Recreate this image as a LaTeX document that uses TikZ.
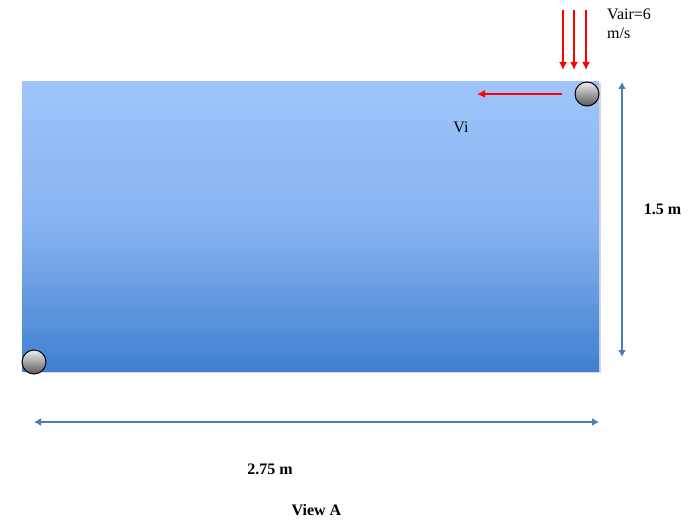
\documentclass[tikz,border=0pt]{standalone}
\usepackage{fontspec}
\setmainfont{Liberation Serif}
\usetikzlibrary{arrows.meta,shadows}
\definecolor{dimblue}{RGB}{74,126,187}
\definecolor{topblue}{RGB}{158,196,250}
\definecolor{midblue}{RGB}{135,178,240}
\definecolor{botblue}{RGB}{64,128,208}
\tikzset{
  dimarrow/.style={draw=dimblue, line width=2pt, {Latex[length=7pt,width=8pt]}-{Latex[length=7pt,width=8pt]}},
  airarrow/.style={draw=red, line width=2.5pt, -{Latex[length=8pt,width=8pt]}},
  ball/.style={circle, draw=black, line width=1pt, minimum size=24pt, inner sep=0pt, top color=gray!15, bottom color=black!65},
  lbl/.style={font=\fontsize{16}{19}\selectfont, inner sep=0pt},
  blbl/.style={font=\fontsize{16}{19}\selectfont\bfseries, inner sep=0pt}
}
\begin{document}
\begin{tikzpicture}[x=1pt,y=-1pt]
\useasboundingbox (0,0) rectangle (698,529);
% tank
\shade[top color=topblue, bottom color=botblue, middle color=midblue, drop shadow={opacity=0.3, shadow xshift=1.5pt, shadow yshift=-1.5pt}] (22,82) rectangle (599,371);
\node[draw=none, minimum width=577pt, minimum height=289pt, inner sep=0pt] (tank) at (310.5,226.5) {};
% balls
\node[ball] (b1) at (587,94) {};
\node[ball] (b2) at (34,362) {};
% air arrows
\coordinate (a1s) at (563,10); \coordinate (a1e) at (563,70);
\coordinate (a2s) at (574,10); \coordinate (a2e) at (574,70);
\coordinate (a3s) at (586,10); \coordinate (a3e) at (586,70);
\draw[airarrow] (a1s) -- (a1e);
\draw[airarrow] (a2s) -- (a2e);
\draw[airarrow] (a3s) -- (a3e);
\node[lbl, anchor=north west, align=left] (vair) at (607,9) {Vair=6\\m/s};
% Vi arrow
\coordinate (vie) at (477,94);
\draw[airarrow] (b1.west) ++(-13,0) coordinate (vis) -- (vie);
\node[lbl] (vi) at (461,127) {Vi};
% dimensions
\coordinate (h1) at (622,82); \coordinate (h2) at (622,357);
\draw[dimarrow] (h1) -- (h2);
\node[blbl] (hl) at (662.5,209) {1.5 m};
\coordinate (w1) at (34,422); \coordinate (w2) at (599,422);
\draw[dimarrow] (w1) -- (w2);
\node[blbl] (wl) at (270,469) {2.75 m};
\node[blbl] (view) at (316.5,510) {View A};
\end{tikzpicture}
\end{document}
